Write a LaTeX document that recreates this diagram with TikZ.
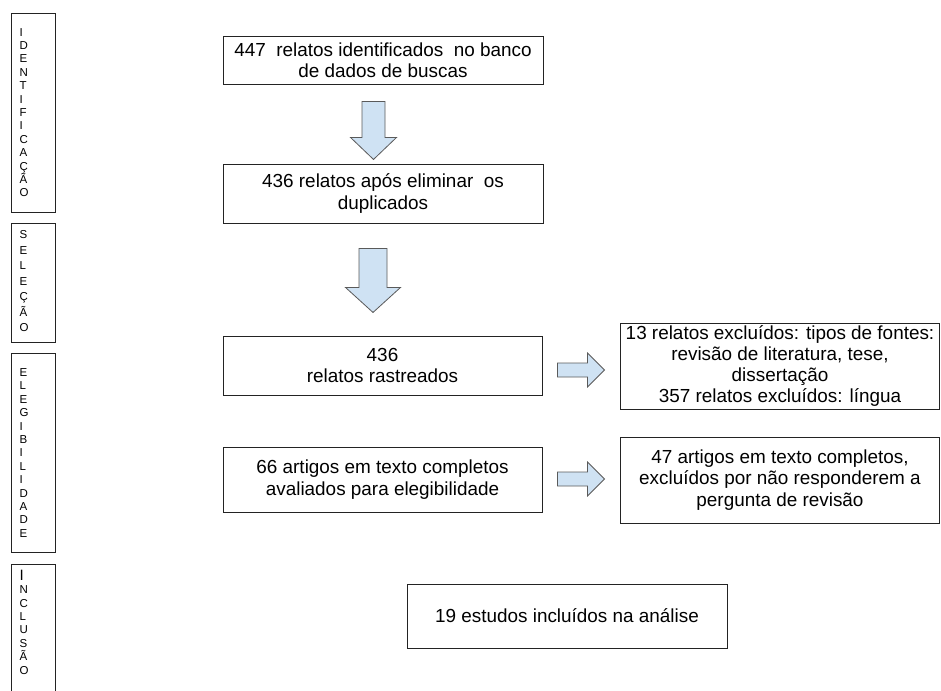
\documentclass[tikz,border=0pt]{standalone}
\usepackage{fontspec}
\setmainfont{Liberation Sans}
\usepackage{tikz}
\usetikzlibrary{calc}
\usepackage{xcolor}
\definecolor{arrowfill}{RGB}{207,226,243}
\definecolor{arrowline}{RGB}{90,90,90}
\definecolor{boxline}{RGB}{35,35,35}

\tikzset{
  stagebox/.style={draw=boxline, line width=0.9pt, minimum width=320pt, inner sep=1pt,
    align=center, font=\fontsize{18.9}{21.3}\selectfont},
  phasebox/.style={draw=boxline, line width=0.9pt, minimum width=44pt, inner sep=0pt},
  phasetxt/.style={align=left, anchor=west, inner sep=0pt, font=\fontsize{11.5}{13.4}\selectfont},
  blkstyle/.style={draw=arrowline, fill=arrowfill, line width=0.8pt, line join=miter},
  pics/blkarrow/.style n args={4}{code={
    \draw[blkstyle] (0,-#3) -- ({#1-#2},-#3) -- ({#1-#2},-#4) -- (#1,0)
      -- ({#1-#2},#4) -- ({#1-#2},#3) -- (0,#3) -- cycle;
  }},
}

\begin{document}
\begin{tikzpicture}[x=1pt,y=-1pt]
  \useasboundingbox (0,0) rectangle (941,690);
  % phases on the left
  \node[phasebox, minimum height=199pt] (ident) at (33,112.5) {};
  \node[phasetxt] (identtxt) at (19.5,112.5) {I\\D\\E\\N\\T\\I\\F\\I\\C\\A\\Ç\\Ã\\O};
  \node[phasebox, minimum height=119pt] (selec) at (33,282.5) {};
  \node[phasetxt, font=\fontsize{11.5}{15.5}\selectfont] (selectxt) at (19.5,281.5) {S\\E\\L\\E\\Ç\\Ã\\O};
  \node[phasebox, minimum height=199pt] (eleg) at (33,452.5) {};
  \node[phasetxt] (elegtxt) at (19.5,453) {E\\L\\E\\G\\I\\B\\I\\L\\I\\D\\A\\D\\E};
  \node[phasebox, minimum height=140pt] (incl) at (33,634) {};
  \node[phasetxt] (incltxt) at (19.5,622) {{\fontsize{15}{15}\selectfont I}\\N\\C\\L\\U\\S\\Ã\\O};
  % main column
  \node[stagebox, minimum height=48pt] (rel447) at (383,60)
    {447\ \ relatos identificados\ \ no banco\\de dados de buscas};
  \node[stagebox, minimum height=59pt] (rel436) at (383,193.5)
    {436 relatos após eliminar\ \ os\\duplicados};
  \node[stagebox, minimum width=319pt, minimum height=59pt] (rastr) at (382.5,365.5)
    {436\\relatos rastreados};
  \node[stagebox, minimum width=319pt, minimum height=65pt] (artigos) at (382.5,479.5)
    {66 artigos em texto completos\\avaliados para elegibilidade};
  \node[stagebox, minimum height=64pt] (incluidos) at (567,616)
    {19 estudos incluídos na análise};
  % excluded, right column
  \node[stagebox, minimum width=318.5pt, minimum height=86pt] (excl1) at (780,366)
    {13 relatos excluídos: tipos de fontes:\\revisão de literatura, tese,\\dissertação\\357 relatos excluídos: língua};
  \node[stagebox, minimum width=318.5pt, minimum height=86pt] (excl2) at (780,480)
    {47 artigos em texto completos,\\excluídos por não responderem a\\pergunta de revisão};
  % block arrows
  \pic[rotate=-90] (down1) at ($(rel447.south)+(-9.5,17)$) {blkarrow={58}{22}{11.5}{23}};
  \pic[rotate=-90] (down2) at ($(rel436.south)+(-10,25)$) {blkarrow={64}{25}{14}{27.5}};
  \pic (right1) at ($(rastr.east)+(15,4.5)$) {blkarrow={47}{17}{7}{17}};
  \pic (right2) at ($(artigos.east)+(15,-0.5)$) {blkarrow={47}{17}{7}{17}};
\end{tikzpicture}
\end{document}
